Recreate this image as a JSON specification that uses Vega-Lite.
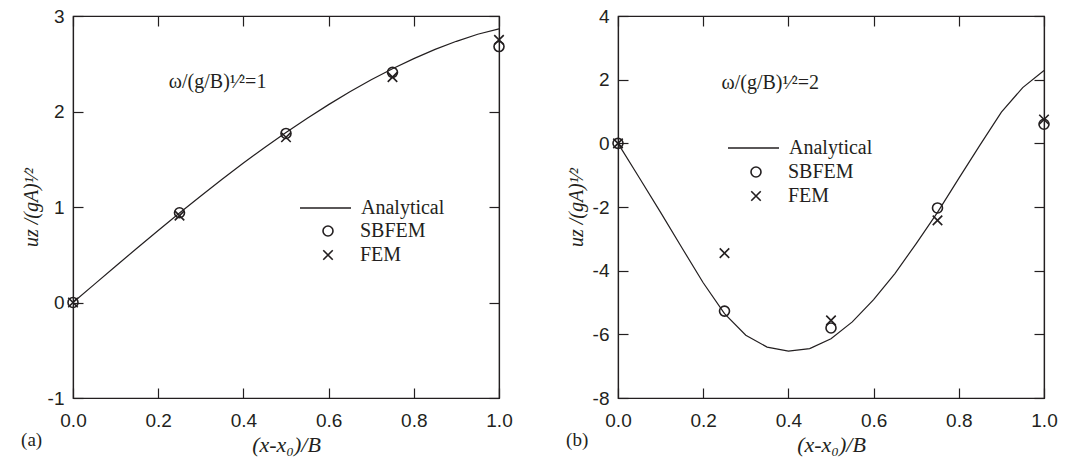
{
  "$schema": "https://vega.github.io/schema/vega-lite/v6.json",
  "background": "white",
  "padding": {"left": 20, "top": 6, "right": 5, "bottom": 5},
  "spacing": 52,
  "datasets": {
    "curveA": [
      {"x": 0, "u": 0}, {"x": 0.05, "u": 0.19}, {"x": 0.1, "u": 0.38}, {"x": 0.15, "u": 0.568},
      {"x": 0.2, "u": 0.754}, {"x": 0.25, "u": 0.937}, {"x": 0.3, "u": 1.116}, {"x": 0.35, "u": 1.29},
      {"x": 0.4, "u": 1.46}, {"x": 0.45, "u": 1.623}, {"x": 0.5, "u": 1.78}, {"x": 0.55, "u": 1.93},
      {"x": 0.6, "u": 2.072}, {"x": 0.65, "u": 2.207}, {"x": 0.7, "u": 2.332}, {"x": 0.75, "u": 2.448},
      {"x": 0.8, "u": 2.554}, {"x": 0.85, "u": 2.65}, {"x": 0.9, "u": 2.735}, {"x": 0.95, "u": 2.809},
      {"x": 1.0, "u": 2.865}
    ],
    "ptsA": [
      {"x": 0, "u": 0, "series": "SBFEM"}, {"x": 0.25, "u": 0.94, "series": "SBFEM"},
      {"x": 0.5, "u": 1.77, "series": "SBFEM"}, {"x": 0.75, "u": 2.41, "series": "SBFEM"},
      {"x": 1.0, "u": 2.68, "series": "SBFEM"},
      {"x": 0, "u": 0, "series": "FEM"}, {"x": 0.25, "u": 0.91, "series": "FEM"},
      {"x": 0.5, "u": 1.73, "series": "FEM"}, {"x": 0.75, "u": 2.36, "series": "FEM"},
      {"x": 1.0, "u": 2.75, "series": "FEM"}
    ],
    "curveB": [
      {"x": 0, "u": 0}, {"x": 0.05, "u": -1.08}, {"x": 0.1, "u": -2.17}, {"x": 0.15, "u": -3.28},
      {"x": 0.2, "u": -4.38}, {"x": 0.25, "u": -5.35}, {"x": 0.3, "u": -6.03}, {"x": 0.35, "u": -6.4},
      {"x": 0.4, "u": -6.53}, {"x": 0.45, "u": -6.45}, {"x": 0.5, "u": -6.14}, {"x": 0.55, "u": -5.61},
      {"x": 0.6, "u": -4.91}, {"x": 0.65, "u": -4.09}, {"x": 0.7, "u": -3.15}, {"x": 0.75, "u": -2.17},
      {"x": 0.8, "u": -1.1}, {"x": 0.85, "u": -0.05}, {"x": 0.9, "u": 0.98}, {"x": 0.95, "u": 1.75},
      {"x": 1.0, "u": 2.29}
    ],
    "ptsB": [
      {"x": 0, "u": 0, "series": "SBFEM"}, {"x": 0.25, "u": -5.27, "series": "SBFEM"},
      {"x": 0.5, "u": -5.8, "series": "SBFEM"}, {"x": 0.75, "u": -2.03, "series": "SBFEM"},
      {"x": 1.0, "u": 0.6, "series": "SBFEM"},
      {"x": 0, "u": 0, "series": "FEM"}, {"x": 0.25, "u": -3.45, "series": "FEM"},
      {"x": 0.5, "u": -5.56, "series": "FEM"}, {"x": 0.75, "u": -2.42, "series": "FEM"},
      {"x": 1.0, "u": 0.75, "series": "FEM"}
    ]
  },
  "hconcat": [
    {
      "width": 426,
      "height": 382,
      "title": {"text": "(a)", "orient": "bottom", "anchor": "start", "dy": -28, "font": "Liberation Serif", "fontSize": 19, "fontWeight": "normal", "color": "#231f20"},
      "resolve": {"axis": {"x": "independent", "y": "independent"}},
      "layer": [
        {
          "data": {"name": "curveA"},
          "mark": {"type": "line", "strokeWidth": 1.2},
          "encoding": {
            "x": {"field": "x", "type": "quantitative", "scale": {"domain": [0, 1], "nice": false},
                  "axis": {"orient": "bottom", "values": [0, 0.2, 0.4, 0.6, 0.8, 1.0], "format": ".1f", "title": "(x-x₀)/B"}},
            "y": {"field": "u", "type": "quantitative", "scale": {"domain": [-1, 3], "nice": false},
                  "axis": {"orient": "left", "values": [-1, 0, 1, 2, 3], "labelExpr": "datum.value < 0 ? '-' + abs(datum.value) : '' + datum.value", "title": "uz /(gA)¹⁄²"}},
            "color": {"datum": "Analytical", "type": "nominal", "scale": {"domain": ["Analytical"], "range": ["#231f20"]},
                      "legend": {"orient": "none", "legendX": 226, "legendY": 165.5, "title": null, "padding": 0,
                                 "symbolType": "stroke", "symbolSize": 2601, "symbolStrokeWidth": 1.3,
                                 "labelFont": "Liberation Serif", "labelFontSize": 20, "labelColor": "#231f20", "labelOffset": 9}}
          }
        },
        {
          "data": {"name": "ptsA"},
          "mark": {"type": "point", "filled": false, "size": 100, "strokeWidth": 1.6, "color": "#231f20", "opacity": 1, "clip": false},
          "encoding": {
            "x": {"field": "x", "type": "quantitative",
                  "axis": {"orient": "top", "values": [0, 0.2, 0.4, 0.6, 0.8, 1.0], "labels": false, "title": null}},
            "y": {"field": "u", "type": "quantitative",
                  "axis": {"orient": "right", "values": [-1, 0, 1, 2, 3], "labels": false, "title": null}},
            "shape": {"field": "series", "type": "nominal",
                      "scale": {"domain": ["SBFEM", "FEM"], "range": ["circle", "M-0.95,-0.95L0.95,0.95M-0.95,0.95L0.95,-0.95"]},
                      "legend": {"orient": "none", "legendX": 245, "legendY": 205, "title": null, "padding": 0,
                                 "symbolSize": 100, "symbolStrokeWidth": 1.6, "symbolStrokeColor": "#231f20", "symbolFillColor": "transparent",
                                 "labelFont": "Liberation Serif", "labelFontSize": 20, "labelColor": "#231f20", "labelOffset": 22, "rowPadding": 4}}
          }
        },
        {
          "data": {"values": [{"label": "ω/(g/B)¹⁄²=1"}]},
          "mark": {"type": "text", "align": "left", "baseline": "middle", "font": "Liberation Serif", "fontSize": 20, "color": "#231f20"},
          "encoding": {
            "text": {"field": "label"},
            "x": {"datum": 0.225, "type": "quantitative", "axis": null},
            "y": {"datum": 2.31, "type": "quantitative", "axis": null}
          }
        }
      ]
    },
    {
      "width": 426,
      "height": 382,
      "title": {"text": "(b)", "orient": "bottom", "anchor": "start", "dy": -28, "font": "Liberation Serif", "fontSize": 19, "fontWeight": "normal", "color": "#231f20"},
      "resolve": {"axis": {"x": "independent", "y": "independent"}},
      "layer": [
        {
          "data": {"name": "curveB"},
          "mark": {"type": "line", "strokeWidth": 1.2},
          "encoding": {
            "x": {"field": "x", "type": "quantitative", "scale": {"domain": [0, 1], "nice": false},
                  "axis": {"orient": "bottom", "values": [0, 0.2, 0.4, 0.6, 0.8, 1.0], "format": ".1f", "title": "(x-x₀)/B"}},
            "y": {"field": "u", "type": "quantitative", "scale": {"domain": [-8, 4], "nice": false},
                  "axis": {"orient": "left", "values": [-8, -6, -4, -2, 0, 2, 4], "labelExpr": "datum.value < 0 ? '-' + abs(datum.value) : '' + datum.value", "title": "uz /(gA)¹⁄²"}},
            "color": {"datum": "Analytical", "type": "nominal", "scale": {"domain": ["Analytical"], "range": ["#231f20"]},
                      "legend": {"orient": "none", "legendX": 109, "legendY": 105.5, "title": null, "padding": 0,
                                 "symbolType": "stroke", "symbolSize": 2601, "symbolStrokeWidth": 1.3,
                                 "labelFont": "Liberation Serif", "labelFontSize": 20, "labelColor": "#231f20", "labelOffset": 9}}
          }
        },
        {
          "data": {"name": "ptsB"},
          "mark": {"type": "point", "filled": false, "size": 100, "strokeWidth": 1.6, "color": "#231f20", "opacity": 1, "clip": false},
          "encoding": {
            "x": {"field": "x", "type": "quantitative",
                  "axis": {"orient": "top", "values": [0, 0.2, 0.4, 0.6, 0.8, 1.0], "labels": false, "title": null}},
            "y": {"field": "u", "type": "quantitative",
                  "axis": {"orient": "right", "values": [-8, -6, -4, -2, 0, 2, 4], "labels": false, "title": null}},
            "shape": {"field": "series", "type": "nominal",
                      "scale": {"domain": ["SBFEM", "FEM"], "range": ["circle", "M-0.95,-0.95L0.95,0.95M-0.95,0.95L0.95,-0.95"]},
                      "legend": {"orient": "none", "legendX": 128, "legendY": 146, "title": null, "padding": 0,
                                 "symbolSize": 100, "symbolStrokeWidth": 1.6, "symbolStrokeColor": "#231f20", "symbolFillColor": "transparent",
                                 "labelFont": "Liberation Serif", "labelFontSize": 20, "labelColor": "#231f20", "labelOffset": 22, "rowPadding": 4}}
          }
        },
        {
          "data": {"values": [{"label": "ω/(g/B)¹⁄²=2"}]},
          "mark": {"type": "text", "align": "left", "baseline": "middle", "font": "Liberation Serif", "fontSize": 20, "color": "#231f20"},
          "encoding": {
            "text": {"field": "label"},
            "x": {"datum": 0.243, "type": "quantitative", "axis": null},
            "y": {"datum": 1.88, "type": "quantitative", "axis": null}
          }
        }
      ]
    }
  ],
  "resolve": {"scale": {"shape": "independent", "color": "independent"}, "legend": {"shape": "independent", "color": "independent"}},
  "config": {
    "view": {"stroke": "#231f20", "strokeWidth": 1.2},
    "axis": {
      "grid": false, "labelFlush": false,
      "domainColor": "#231f20", "domainWidth": 1.2,
      "tickColor": "#231f20", "tickWidth": 1.2, "tickSize": -10,
      "labelFont": "Liberation Sans", "labelFontSize": 19, "labelColor": "#231f20",
      "titleFont": "Liberation Serif", "titleFontWeight": "normal", "titleColor": "#231f20",
      "titleFontStyle": "italic"
    },
    "axisX": {"labelPadding": 23, "titleFontSize": 22, "titlePadding": 4},
    "axisY": {"labelPadding": 19, "titleFontSize": 20, "titlePadding": 6}
  }
}
